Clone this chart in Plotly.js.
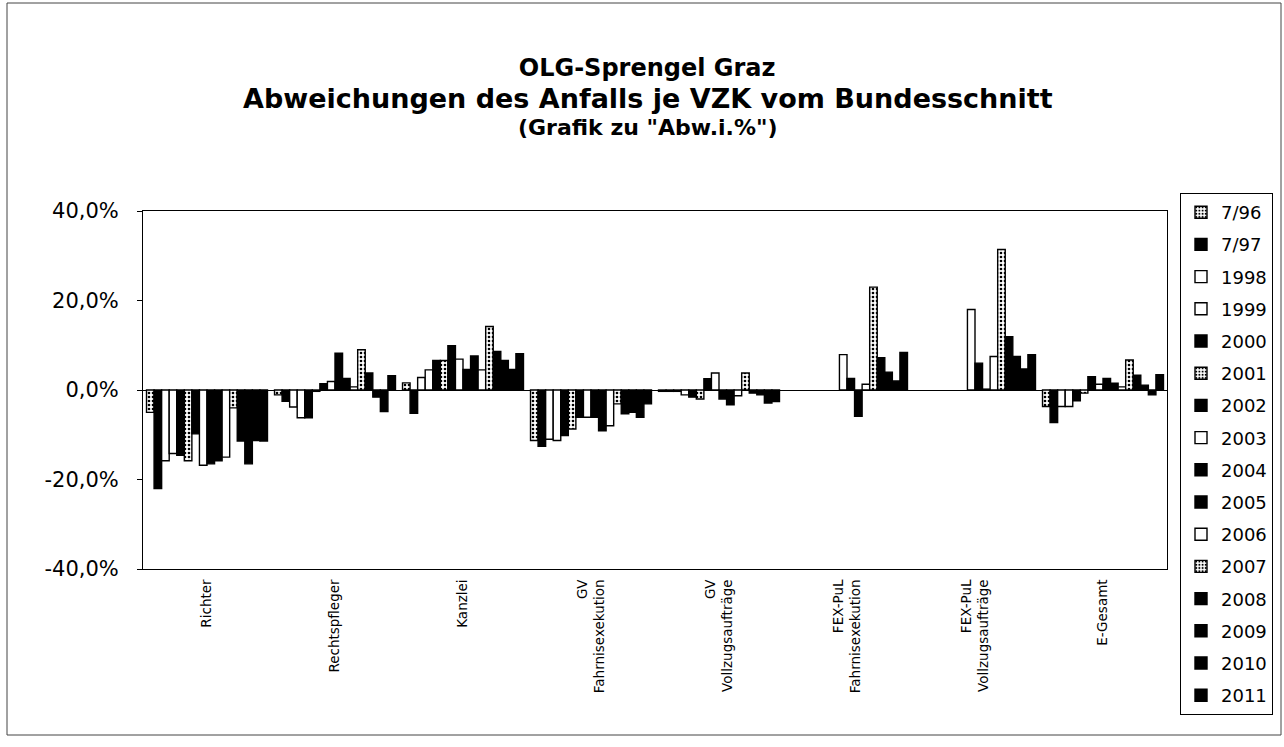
<!DOCTYPE html>
<html>
<head>
<meta charset="utf-8">
<script src="https://cdn.plot.ly/plotly-3.0.1.min.js"></script>
<style>html,body{margin:0;padding:0;background:#fff;}#chart{width:1284px;height:747px;}</style>
</head>
<body>
<div id="chart"></div>
<script>
// ---- Data (values in %) ----
const categories = ['Richter', 'Rechtspfleger', 'Kanzlei', 'GV<br>Fahrnisexekution', 'GV<br>Vollzugsaufträge', 'FEX-PuL<br>Fahrnisexekution', 'FEX-PuL<br>Vollzugsaufträge', 'E-Gesamt'];
const seriesNames = ['7/96', '7/97', '1998', '1999', '2000', '2001', '2002', '2003', '2004', '2005', '2006', '2007', '2008', '2009', '2010', '2011'];

const v_7_96 = [-5.0, -1.1, 1.6, -11.3, -0.3, null, null, -3.7];
const v_7_97 = [-22.0, -2.5, -5.2, -12.6, -0.3, null, null, -7.3];
const v_1998 = [-15.8, -3.8, 2.8, -11.0, -0.3, null, null, -3.7];
const v_1999 = [-14.2, -6.2, 4.5, -11.3, -1.1, null, null, -3.7];
const v_2000 = [-14.6, -6.2, 6.6, -10.2, -1.6, null, null, -2.4];
const v_2001 = [-15.8, -0.3, 6.6, -8.7, -2.0, null, null, -0.7];
const v_2002 = [-9.8, 1.4, 9.9, -6.1, 2.5, null, null, 3.0];
const v_2003 = [-16.8, 1.9, 6.9, -6.1, 3.8, 7.9, 18.0, 1.3];
const v_2004 = [-16.5, 8.2, 4.6, -6.1, -2.0, 2.6, 6.0, 2.6];
const v_2005 = [-15.8, 2.6, 7.6, -9.1, -3.3, -5.9, 0.2, 1.5];
const v_2006 = [-15.0, 0.7, 4.5, -8.0, -1.3, 1.3, 7.5, 0.7];
const v_2007 = [-4.0, 9.0, 14.2, -3.1, 3.8, 23.0, 31.4, 6.7];
const v_2008 = [-11.4, 3.8, 8.6, -5.3, -0.7, 7.2, 11.9, 3.3];
const v_2009 = [-16.5, -1.6, 6.6, -5.0, -1.1, 4.0, 7.5, 1.1];
const v_2010 = [-11.3, -4.8, 4.6, -6.1, -2.9, 2.0, 4.7, -1.1];
const v_2011 = [-11.4, 3.2, 8.1, -3.1, -2.6, 8.4, 7.9, 3.4];

const seriesValues = [v_7_96, v_7_97, v_1998, v_1999, v_2000, v_2001, v_2002, v_2003,
                      v_2004, v_2005, v_2006, v_2007, v_2008, v_2009, v_2010, v_2011];

const yTickVals = [-40, -20, 0, 20, 40];
const yTickText = ['-40,0%', '-20,0%', '0,0%', '20,0%', '40,0%'];

// ---- Styles ----
const whiteSeries = ['1998', '1999', '2003', '2006'];
const dottedSeries = ['7/96', '2001', '2007'];
const FONT = 'DejaVu Sans, Liberation Sans, Arial, sans-serif';

const traces = seriesNames.map((name, i) => {
  const marker = { color: '#000', line: { color: '#000', width: 1.4 } };
  if (whiteSeries.includes(name)) marker.color = '#fff';
  if (dottedSeries.includes(name)) {
    marker.color = '#fff';
    marker.pattern = { shape: '.', fgcolor: '#000', bgcolor: '#fff', size: 4, solidity: 0.35 };
  }
  return {
    type: 'bar', name: name, x: categories, y: seriesValues[i],
    marker: marker, legendgroup: 'g' + i, hoverinfo: 'name+y'
  };
});

const layout = {
  width: 1284, height: 747,
  paper_bgcolor: '#fff', plot_bgcolor: '#fff',
  margin: { l: 143, r: 117, t: 211, b: 178 },
  barmode: 'group', bargap: 0.055, bargroupgap: 0,
  font: { family: FONT, color: '#000' },
  title: {
    text: '<b>OLG-Sprengel Graz</b>',
    font: { family: FONT, size: 24, color: '#000' },
    x: 0.504, xanchor: 'center', y: 1 - 68 / 747, yanchor: 'middle'
  },
  annotations: [
    { text: '<b>Abweichungen des Anfalls je VZK vom Bundesschnitt</b>', xref: 'paper', yref: 'paper',
      x: 0.493, y: (569 - 98) / 358, xanchor: 'center', yanchor: 'middle', showarrow: false,
      font: { family: FONT, size: 27, color: '#000' } },
    { text: '<b>(Grafik zu "Abw.i.%")</b>', xref: 'paper', yref: 'paper',
      x: 0.493, y: (569 - 128) / 358, xanchor: 'center', yanchor: 'middle', showarrow: false,
      font: { family: FONT, size: 22, color: '#000' } }
  ],
  xaxis: {
    type: 'category', showline: true, mirror: true, linecolor: '#000', linewidth: 1,
    showgrid: false, ticks: '', tickangle: -90, ticklabelstandoff: 4,
    tickfont: { family: FONT, size: 13.5, color: '#000' }
  },
  yaxis: {
    range: [-40, 40], tickvals: yTickVals, ticktext: yTickText,
    showline: true, mirror: true, linecolor: '#000', linewidth: 1,
    showgrid: false, zeroline: true, zerolinecolor: '#000', zerolinewidth: 1,
    ticks: 'outside', ticklen: 5, tickcolor: '#000', ticklabelstandoff: 14,
    tickfont: { family: FONT, size: 21, color: '#000' }
  },
  legend: {
    xref: 'container', yref: 'container', x: 1180 / 1284, y: 1 - 193 / 747,
    xanchor: 'left', yanchor: 'top', bordercolor: '#000', borderwidth: 1,
    bgcolor: '#fff', font: { family: FONT, size: 18, color: '#000' },
    tracegroupgap: 5.8, itemwidth: 30, maxheight: 560
  },
  shapes: [
    { type: 'rect', xref: 'paper', yref: 'paper',
      x0: (7 - 143) / 1024, x1: (1281 - 143) / 1024, y0: (569 - 735) / 358, y1: (569 - 3) / 358,
      line: { color: '#444', width: 1 }, fillcolor: 'rgba(0,0,0,0)', layer: 'below' }
  ],
  showlegend: true
};

Plotly.newPlot('chart', traces, layout, { displayModeBar: false, staticPlot: true });
</script>
</body>
</html>
